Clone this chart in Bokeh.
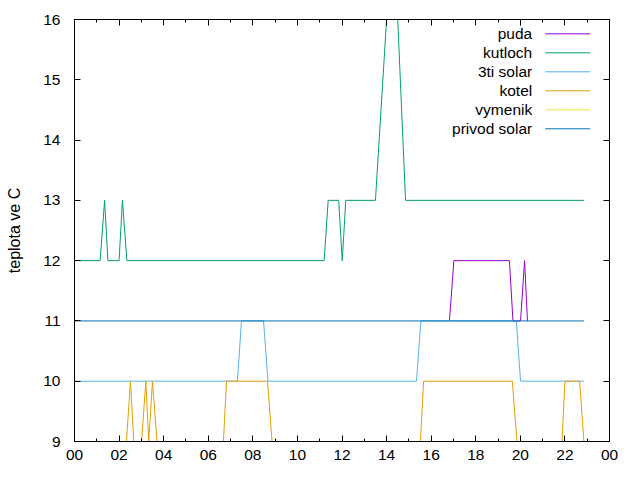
from bokeh.plotting import figure
from bokeh.models import Range1d, FixedTicker, LinearAxis
from bokeh.core.properties import value
from bokeh.embed import file_html
from bokeh.resources import INLINE

# ---- data (hours of day, temperature in C) ----
puda_t = [16.82, 17.02, 19.51, 19.67, 20.01, 20.19, 20.32]
puda_v = [11, 12, 12, 11, 11, 12, 11]

kutloch_t = [0.0, 1.15, 1.35, 1.50, 2.00, 2.15, 2.35, 11.20, 11.38, 11.85, 12.01, 12.17, 13.50, 14.00, 14.50, 14.85, 22.85]
kutloch_v = [12, 12, 13, 12, 12, 13, 12, 12, 13, 13, 12, 13, 13, 16, 16, 13, 13]

solar3_t = [0.0, 7.31, 7.49, 8.48, 8.68, 15.34, 15.54, 19.82, 20.01, 22.85]
solar3_v = [10, 10, 11, 11, 10, 10, 11, 11, 10, 10]

kotel_t = [0.0, 2.33, 2.51, 2.66, 3.01, 3.20, 3.33, 3.50, 3.70, 6.68, 6.82, 8.66, 8.86, 15.52, 15.66, 19.64, 19.85, 21.87, 22.00, 22.66, 22.85]
kotel_v = [9, 9, 10, 9, 9, 10, 9, 10, 9, 9, 10, 10, 9, 9, 10, 10, 9, 9, 10, 10, 9]

vymenik_t = [0.0, 22.85]
vymenik_v = [8, 8]

privod_t = [0.0, 22.85]
privod_v = [11, 11]

series_names = ["puda", "kutloch", "3ti solar", "kotel", "vymenik", "privod solar"]
series_colors = ["#9400d3", "#009e73", "#56b4e9", "#e69f00", "#f0e442", "#0072b2"]
series_data = [(puda_t, puda_v), (kutloch_t, kutloch_v), (solar3_t, solar3_v),
               (kotel_t, kotel_v), (vymenik_t, vymenik_v), (privod_t, privod_v)]

x_ticks = list(range(0, 25, 2))
x_tick_labels = ["00", "02", "04", "06", "08", "10", "12", "14", "16", "18", "20", "22", "00"]
y_ticks = list(range(9, 17))

FONT = "Liberation Sans"

p = figure(width=640, height=480, output_backend="svg", toolbar_location=None,
           x_range=Range1d(0, 24), y_range=Range1d(9, 16),
           min_border_left=74, min_border_right=31, min_border_top=19, min_border_bottom=39)
p.background_fill_color = "white"
p.border_fill_color = "white"
p.outline_line_color = "black"
p.outline_line_width = 1
p.grid.visible = False

xticker = FixedTicker(ticks=x_ticks, minor_ticks=list(range(0, 25)))
yticker = FixedTicker(ticks=y_ticks, minor_ticks=[])

xa = p.xaxis[0]
xa.ticker = xticker
xa.major_label_overrides = {t: lab for t, lab in zip(x_ticks, x_tick_labels)}
ya = p.yaxis[0]
ya.ticker = yticker
ya.axis_label = "teplota ve C"
ya.axis_label_text_font_style = "normal"
ya.axis_label_text_font = FONT
ya.axis_label_text_font_size = "16px"
ya.axis_label_text_color = "black"
ya.axis_label_standoff = 17

for ax in (xa, ya):
    ax.major_label_text_font = FONT
    ax.major_label_text_font_size = "15.5px"
    ax.major_label_text_color = "black"
    ax.axis_line_color = "black"
    ax.major_tick_in = 6
    ax.major_tick_out = 0
    ax.minor_tick_in = 3
    ax.minor_tick_out = 0
    ax.major_tick_line_color = "black"
    ax.minor_tick_line_color = "black"
xa.major_label_standoff = 8
ya.major_label_standoff = 14

# mirrored ticks on top and right (no labels)
top = LinearAxis(ticker=xticker, major_label_text_color=None, major_label_text_font_size="10px",
                 major_label_standoff=0,
                 major_tick_in=6, major_tick_out=0, minor_tick_in=3, minor_tick_out=0,
                 axis_line_color="black")
right = LinearAxis(ticker=yticker, major_label_text_color=None, major_label_text_font_size="10px",
                   major_label_standoff=0,
                   major_tick_in=6, major_tick_out=0, minor_tick_in=3, minor_tick_out=0,
                   axis_line_color="black")
p.add_layout(top, "above")
p.add_layout(right, "right")

for (t, v), c in zip(series_data, series_colors):
    p.line(t, v, line_color=c, line_width=1)

# legend (gnuplot style: right-aligned text, then sample line)
px_per_h = 535 / 24.0
px_per_deg = 422.0 / 7.0
def hx(px):
    return (px - 74.3) / px_per_h
def dy(py):
    return 16 - (py - 19) / px_per_deg

rows_y = [dy(33.3 + 19 * i) for i in range(len(series_names))]
p.text(x=[hx(532)] * len(series_names), y=rows_y, text=series_names,
       text_align="right", text_baseline="middle", text_font=value(FONT),
       text_font_size="15.5px", text_color="black")
p.segment(x0=[hx(545)] * len(series_names), x1=[hx(590)] * len(series_names),
          y0=rows_y, y1=rows_y, line_color=series_colors, line_width=1)

open("out.html", "w").write(file_html(p, INLINE))
